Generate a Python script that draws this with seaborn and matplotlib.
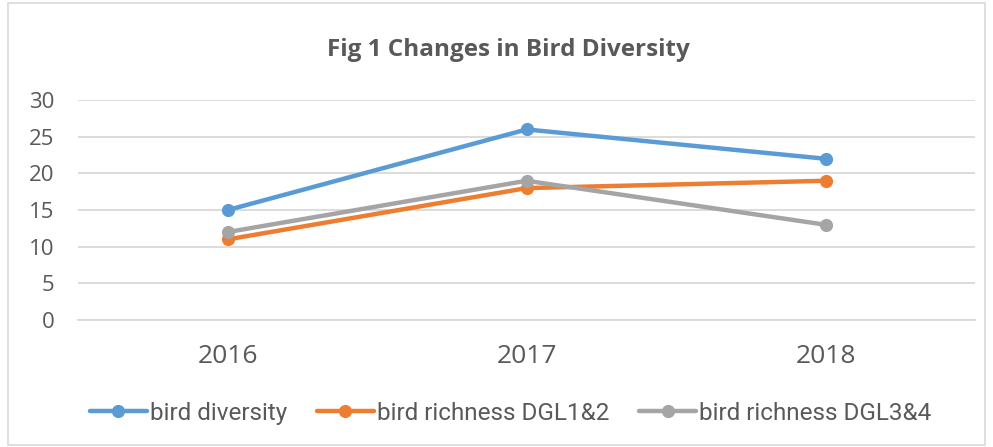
import matplotlib
matplotlib.use("Agg")
import matplotlib.pyplot as plt
import seaborn as sns
import pandas as pd
from matplotlib.patches import Rectangle
from matplotlib.lines import Line2D

years = ["2016", "2017", "2018"]
bird_diversity = [15, 26, 22]
richness_dgl12 = [11, 18, 19]
richness_dgl34 = [12, 19, 13]
series_names = ["bird diversity", "bird richness DGL1&2", "bird richness DGL3&4"]
colors = ["#5B9BD5", "#ED7D31", "#A5A5A5"]

df = pd.DataFrame({
    "year": years * 3,
    "value": bird_diversity + richness_dgl12 + richness_dgl34,
    "series": [series_names[0]] * 3 + [series_names[1]] * 3 + [series_names[2]] * 3,
})

sns.set_style("white")
plt.rcParams["font.family"] = ["Open Sans", "DejaVu Sans"]

fig = plt.figure(figsize=(9.93, 4.47), dpi=100)
ax = fig.add_axes([0.0786, 0.284, 0.9034, 0.492])

sns.lineplot(data=df, x="year", y="value", hue="series", palette=colors,
             marker="o", markersize=9.5, markeredgewidth=0, linewidth=3.2,
             sort=False, ax=ax, legend=False)

ax.set_xlim(-0.5, 2.5)
ax.set_ylim(0, 30)
ax.set_yticks(range(0, 31, 5))
ax.grid(axis="y", color="#D9D9D9", linewidth=1.3)
ax.set_axisbelow(True)
for s in ["top", "right", "left"]:
    ax.spines[s].set_visible(False)
ax.spines["bottom"].set_color("#D9D9D9")
ax.spines["bottom"].set_linewidth(1.3)
ax.tick_params(axis="y", length=0, labelsize=16, labelcolor="#595959", pad=17)
ax.tick_params(axis="x", length=0, labelsize=19, labelcolor="#595959", pad=17)
ax.set_xlabel("")
ax.set_ylabel("")

fig.text(0.512, 0.888, "Fig 1 Changes in Bird Diversity", ha="center", va="center",
         fontsize=17.5, fontweight="bold", color="#595959")

handles = [Line2D([0], [0], color=c, linewidth=3.2, marker="o", markersize=9.5,
                  markeredgewidth=0) for c in colors]
leg = fig.legend(handles, series_names, loc="center", bbox_to_anchor=(0.514, 0.076),
                 ncol=3, frameon=False, handlelength=2.35, handletextpad=0.12,
                 columnspacing=1.23, borderpad=0,
                 prop={"family": ["Roboto", "DejaVu Sans"], "size": 17.5})
for t in leg.get_texts():
    t.set_color("#595959")

fig.patches.append(Rectangle((0.008, 0.005), 0.984, 0.988, transform=fig.transFigure,
                             fill=False, edgecolor="#D9D9D9", linewidth=1.2))

fig.savefig("out.png", dpi=100)
